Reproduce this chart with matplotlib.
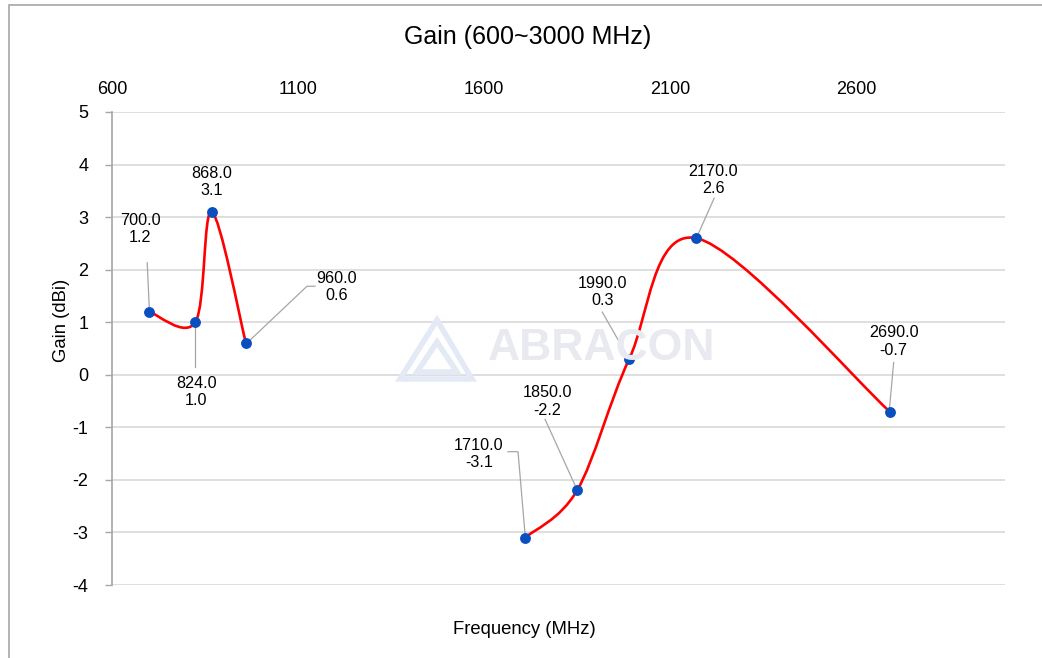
import numpy as np
import matplotlib
matplotlib.use("Agg")
import matplotlib.pyplot as plt
from matplotlib.patches import Rectangle, Polygon
from matplotlib.path import Path
from matplotlib.patches import PathPatch
from matplotlib.transforms import offset_copy

plt.rcParams['font.family'] = ['Liberation Sans', 'DejaVu Sans']
plt.rcParams['axes.unicode_minus'] = False

# ---- data ----
freq_low = [700, 824, 868, 960]
gain_low = [1.2, 1.0, 3.1, 0.6]
freq_high = [1710, 1850, 1990, 2170, 2690]
gain_high = [-3.1, -2.2, 0.3, 2.6, -0.7]
x_ticks = [600, 1100, 1600, 2100, 2600]
y_ticks = [-4, -3, -2, -1, 0, 1, 2, 3, 4, 5]
title = "Gain (600~3000 MHz)"
xlabel = "Frequency (MHz)"
ylabel = "Gain (dBi)"

# label placement (pixel offsets) and leader line offsets, per point
label_offsets = {
    700: ((-9, 83), [(-2, 49), (0, 5)]),
    824: ((1, -70), [(0, -5), (0, -45)]),
    868: ((0, 30), None),
    960: ((91, 56), [(4, 3), (61, 57), (69, 57)]),
    1710: ((-46, 84), [(0, 4), (-7, 86), (-17, 86)]),
    1850: ((-30, 89), [(-2, 5), (-32, 71)]),
    1990: ((-27, 67), [(-3, 5), (-27, 47)]),
    2170: ((17, 58), [(2, 4), (18, 40)]),
    2690: ((4, 70), [(0, 5), (4, 49)]),
}

W, H = 1042, 658
fig = plt.figure(figsize=(W / 100, H / 100), dpi=100)
fig.patch.set_facecolor('white')

# outer chart border
fig.patches.append(Rectangle((9 / W, -0.1), 2.0, 1 - 5 / H + 0.1, transform=fig.transFigure,
                             fill=False, edgecolor='#a6a6a6', linewidth=1.2))

L, R, T, B = 112, 1005, 112, 585
ax = fig.add_axes([L / W, 1 - B / H, (R - L) / W, (B - T) / H])
ax.set_xlim(600, 3000)
ax.set_ylim(-4, 5)
ax.set_xticks(x_ticks)
ax.set_yticks(y_ticks)
ax.xaxis.tick_top()
ax.tick_params(axis='x', length=0, pad=10, labelsize=13, colors='black')
ax.tick_params(axis='y', length=5, width=1, color='#a6a6a6', direction='out', pad=12,
               labelsize=13, labelcolor='black')
for s in ['top', 'right', 'bottom']:
    ax.spines[s].set_visible(False)
ax.spines['left'].set_color('#a6a6a6')
ax.spines['left'].set_linewidth(1.2)
ax.grid(axis='y', color='#d9d9d9', linewidth=1.2)
ax.set_axisbelow(True)

fig.text(528 / W, 1 - 37 / H, title, ha='center', va='center', fontsize=18)
fig.text(524 / W, 1 - 630 / H, xlabel, ha='center', va='center', fontsize=13.3)
fig.text(62 / W, 1 - 320 / H, ylabel, ha='center', va='center', rotation=90, fontsize=13.3)

# watermark
fig.text(602 / W, 1 - 348 / H, "ABRACON", ha='center', va='center', fontsize=32,
         fontweight='bold', color='#e8eaf0', zorder=0)
wm = '#e3eaf6'
for pts in [[(437, 320), (400, 379), (472, 379)], [(437, 342), (417, 372), (457, 372)]]:
    fig.patches.append(Polygon([(x / W, 1 - y / H) for x, y in pts], closed=True, fill=False,
                               edgecolor=wm, linewidth=4, transform=fig.transFigure, zorder=0))


def smooth(xs, ys):
    """Excel-style smoothed line: cubic Bezier through points in display space."""
    P = ax.transData.transform(np.column_stack([xs, ys]))
    n = len(P)
    verts = [P[0]]
    codes = [Path.MOVETO]
    for i in range(n - 1):
        p0 = P[i - 1] if i > 0 else P[i]
        p1, p2 = P[i], P[i + 1]
        p3 = P[i + 2] if i + 2 < n else P[i + 1]
        c1 = p1 + (p2 - p0) / 6.0
        c2 = p2 - (p3 - p1) / 6.0
        verts += [c1, c2, p2]
        codes += [Path.CURVE4] * 3
    return Path(ax.transData.inverted().transform(np.array(verts)), codes)


for xs, ys in [(freq_low, gain_low), (freq_high, gain_high)]:
    ax.add_patch(PathPatch(smooth(xs, ys), fill=False, edgecolor='#ff0000', linewidth=1.9,
                           zorder=3, capstyle='round', joinstyle='round'))
    ax.plot(xs, ys, linestyle='none', marker='o', markersize=6.8, color='#0a4fc0',
            markeredgecolor='#0a4fc0', zorder=4)
    for x, y in zip(xs, ys):
        (tdx, tdy), leader = label_offsets[x]
        tr = offset_copy(ax.transData, fig=fig, x=tdx, y=tdy, units='dots')
        ax.text(x, y, f"{x:.1f}\n{y:.1f}", transform=tr, ha='center', va='center',
                fontsize=11.6, linespacing=1.2, zorder=5, clip_on=False)
        if leader:
            disp = ax.transData.transform((x, y))
            pts = np.array([[disp[0] + dx, disp[1] + dy] for dx, dy in leader])
            dpts = ax.transData.inverted().transform(pts)
            ax.plot(dpts[:, 0], dpts[:, 1], color='#a6a6a6', linewidth=0.9, zorder=2,
                    clip_on=False)

fig.savefig('out.png', dpi=100)
